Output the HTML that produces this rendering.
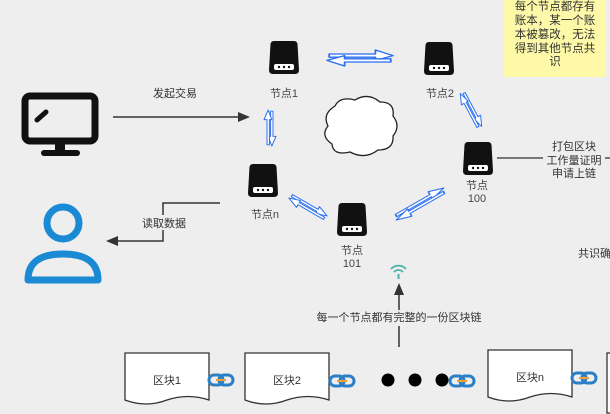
<!DOCTYPE html>
<html><head><meta charset="utf-8"><style>
html,body{margin:0;padding:0;background:#eeeeee;}
svg{display:block;font-family:"Liberation Sans","Noto Sans CJK SC",sans-serif;}
</style></head><body>
<svg width="610" height="414" viewBox="0 0 610 414" xmlns="http://www.w3.org/2000/svg">
<defs>
<g id="node">
<path d="M3,0 H25 Q28,0 28.5,3 L30,29 Q30,33 26,33 H4 Q0,33 0,29 L1.5,3 Q2,0 5,0 Z" fill="#111"/>
<rect x="5" y="23" width="20" height="6" rx="2" fill="#fff"/>
<circle cx="10" cy="26" r="1.2" fill="#111"/><circle cx="15" cy="26" r="1.2" fill="#111"/><circle cx="20" cy="26" r="1.2" fill="#111"/>
</g>
<g id="dbl" fill="#fff" stroke="#2a6ef0" stroke-width="1.6" stroke-linejoin="round">
<path d="M-28,-5 H14 V-10 L30,-3 L14,3 V-1 H-28 Z"/>
<path d="M28,5 H-14 V10 L-30,3 L-14,-3 V1 H28 Z"/>
</g>
<g id="link" fill="none" stroke-width="3">
<rect x="0" y="-5" width="14" height="10" rx="5" stroke="#2b7fc6"/>
<rect x="10" y="-5" width="14" height="10" rx="5" stroke="#2b7fc6"/>
<line x1="7" y1="0" x2="17" y2="0" stroke="#f0a030" stroke-width="2"/>
</g>
<path id="doc" d="M0,0 H84 V47 Q63,40 42,47 Q21,55 0,47 Z" fill="#fff" stroke="#333" stroke-width="1.3"/>
</defs>

<!-- note -->
<rect x="504" y="0" width="102" height="77" fill="#fdf9a8"/>
<g font-size="11.5" fill="#333" text-anchor="middle">
<text x="555" y="10">每个节点都存有</text>
<text x="555" y="24">账本，某一个账</text>
<text x="555" y="38">本被篡改，无法</text>
<text x="555" y="52">得到其他节点共</text>
<text x="555" y="65">识</text>
</g>

<!-- monitor -->
<rect x="25" y="96" width="70" height="45" rx="5" fill="none" stroke="#111" stroke-width="7"/>
<line x1="37" y1="120" x2="46" y2="112" stroke="#111" stroke-width="5" stroke-linecap="round"/>
<rect x="55" y="141" width="10" height="10" fill="#111"/>
<rect x="41" y="150" width="39" height="6" rx="3" fill="#111"/>

<!-- send arrow -->
<line x1="113" y1="117" x2="240" y2="117" stroke="#333" stroke-width="1.5"/>
<path d="M250,117 L238,112 L238,122 Z" fill="#333"/>
<text x="175" y="97" font-size="11" fill="#333" text-anchor="middle">发起交易</text>

<!-- nodes -->
<use href="#node" x="269" y="41"/>
<text x="284" y="97" font-size="11" fill="#444" text-anchor="middle">节点1</text>
<use href="#node" x="424" y="42"/>
<text x="440" y="97" font-size="11" fill="#444" text-anchor="middle">节点2</text>
<use href="#node" x="463" y="142"/>
<text x="477" y="189" font-size="11" fill="#444" text-anchor="middle">节点</text>
<text x="477" y="202" font-size="11" fill="#444" text-anchor="middle">100</text>
<use href="#node" x="248" y="164"/>
<text x="265" y="218" font-size="11" fill="#444" text-anchor="middle">节点n</text>
<use href="#node" x="337" y="203"/>
<text x="352" y="254" font-size="11" fill="#444" text-anchor="middle">节点</text>
<text x="352" y="267" font-size="11" fill="#444" text-anchor="middle">101</text>

<!-- cloud -->
<path d="M335,106 Q340,96 355,100 Q368,92 380,102 Q395,102 393,116 Q401,126 393,136 Q394,150 378,150 Q365,160 350,152 Q333,156 332,144 Q320,136 328,126 Q322,114 335,106 Z" fill="#fff" stroke="#222" stroke-width="1.3"/>

<!-- double arrows -->
<use href="#dbl" transform="translate(360,58) scale(1.1,0.8)"/>
<use href="#dbl" transform="translate(270,128) rotate(90) scale(0.6,0.6)"/>
<use href="#dbl" transform="translate(471,110) rotate(62) scale(0.65,0.6)"/>
<use href="#dbl" transform="translate(308,207) rotate(30) scale(0.7,0.6)"/>
<use href="#dbl" transform="translate(420,204) rotate(-30) scale(0.95,0.65)"/>

<!-- right line & label -->
<line x1="497" y1="158" x2="610" y2="158" stroke="#333" stroke-width="1.3"/>
<rect x="543" y="137" width="62" height="42" fill="#eeeeee"/>
<g font-size="11" fill="#333" text-anchor="middle">
<text x="574" y="150">打包区块</text>
<text x="574" y="164">工作量证明</text>
<text x="574" y="177">申请上链</text>
</g>
<text x="578" y="257" font-size="11" fill="#333">共识确</text>

<!-- person -->
<circle cx="63" cy="223" r="16" fill="none" stroke="#1a8ad4" stroke-width="7"/>
<path d="M28,280 Q28,254 63,254 Q98,254 98,280 Z" fill="none" stroke="#1a8ad4" stroke-width="7" stroke-linejoin="round"/>

<!-- read data -->
<polyline points="220,203 163,203 163,241 116,241" fill="none" stroke="#333" stroke-width="1.5"/>
<path d="M106,241 L118,236 L118,246 Z" fill="#333"/>
<rect x="139" y="215" width="50" height="15" fill="#eeeeee"/>
<text x="164" y="227" font-size="11" fill="#333" text-anchor="middle">读取数据</text>

<!-- wifi -->
<g fill="none" stroke="#4ab0a8" stroke-width="1.8">
<path d="M391,269 A10,10 0 0 1 406,269"/>
<path d="M394,272 A6,6 0 0 1 403,272"/>
</g>
<line x1="398.5" y1="274" x2="398.5" y2="279" stroke="#4ab0a8" stroke-width="2"/>

<!-- up arrow -->
<line x1="399" y1="347" x2="399" y2="294" stroke="#333" stroke-width="1.5"/>
<path d="M399,283 L394,295 L404,295 Z" fill="#333"/>
<rect x="317" y="310" width="164" height="16" fill="#eeeeee"/>
<text x="399" y="321" font-size="11" fill="#333" text-anchor="middle">每一个节点都有完整的一份区块链</text>

<!-- blocks -->
<use href="#doc" x="125" y="353"/>
<text x="167" y="384" font-size="11" fill="#333" text-anchor="middle">区块1</text>
<use href="#doc" x="245" y="353"/>
<text x="287" y="384" font-size="11" fill="#333" text-anchor="middle">区块2</text>
<use href="#doc" x="488" y="350"/>
<text x="530" y="381" font-size="11" fill="#333" text-anchor="middle">区块n</text>
<rect x="607" y="353" width="10" height="60" fill="#fff" stroke="#333" stroke-width="1.3"/>
<use href="#link" x="209" y="380"/>
<use href="#link" x="330" y="381"/>
<use href="#link" x="450" y="381"/>
<use href="#link" x="572" y="378"/>
<circle cx="388" cy="380" r="6.5" fill="#000"/>
<circle cx="415" cy="380" r="6.5" fill="#000"/>
<circle cx="442" cy="380" r="6.5" fill="#000"/>
</svg>
</body></html>
